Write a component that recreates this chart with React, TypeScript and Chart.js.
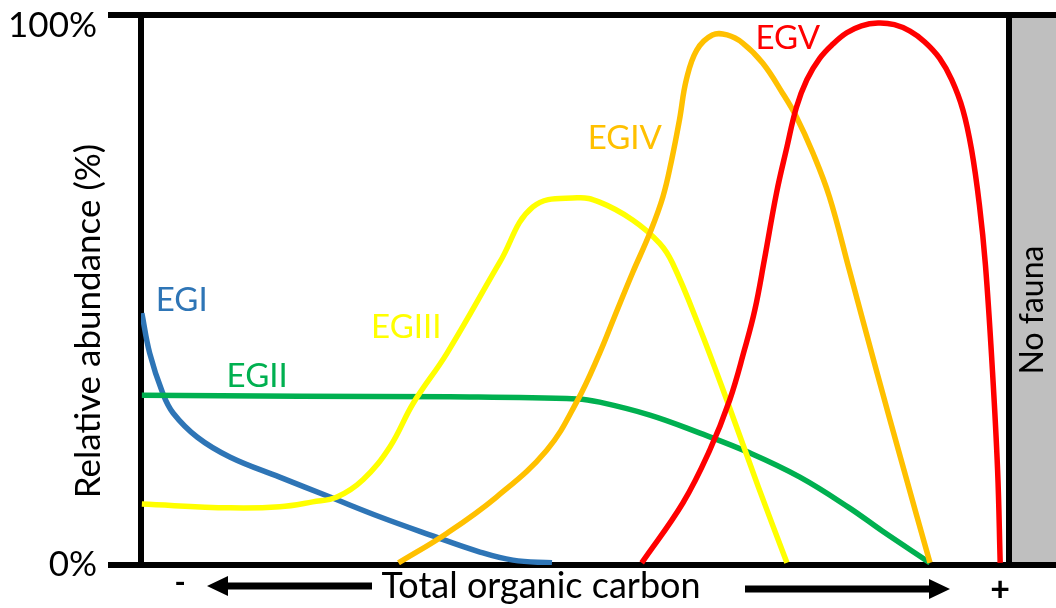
import React, { useEffect, useRef } from "react";
import { Chart, registerables } from "chart.js";

Chart.register(...registerables);

const FONT = "Lato, 'Open Sans', sans-serif";

// x: position along the organic-carbon gradient (0 = left axis, 100 = "No fauna" boundary)
// y: relative abundance (%)
const egiX = [0.1, 1, 2.5, 3.7, 6.5, 10.3, 16, 21.8, 27.6, 33.3, 39.1, 42.9, 47.4];
const egiY = [46.7, 39.3, 31.9, 28.2, 23.7, 20, 16.3, 12.6, 8.9, 5.6, 2.4, 0.9, 0.4];

const egiiX = [0.1, 18.3, 35.6, 50.3, 52.9, 58.7, 64.4, 70.2, 76, 81.7, 85.5, 91];
const egiiY = [31.5, 31.3, 31.2, 30.8, 30.2, 27.8, 24.5, 20.8, 16.3, 10.6, 6.3, 0.4];

const egiiiX = [0.1, 10.3, 16, 19.8, 22.6, 25.6, 28.7, 31.4, 35.3, 41.4, 45.2, 50.3, 52.9, 56.7, 59.8, 61.3, 64.4, 67.7, 71.2, 74.5];
const egiiiY = [11.3, 10.6, 10.8, 11.7, 12.6, 15.8, 21.9, 30, 39.3, 56.2, 66.4, 68.1, 67.3, 64, 59.7, 56, 44.1, 30, 14.5, 0.4];

const egivX = [29.7, 35.3, 41, 46.8, 50.3, 52.9, 54.6, 56.7, 58.7, 60.2, 61.2, 62.1, 62.9, 64.1, 65.9, 67.6, 69.4, 71.7, 74, 75.6, 77.5, 79.4, 81.7, 84.8, 88, 91];
const egivY = [0.4, 5.9, 12.6, 21.3, 30.4, 39.3, 46, 54.2, 61.6, 68.3, 75.1, 82.5, 90, 95.5, 98.3, 98.3, 96.8, 93.1, 87.5, 83.1, 76.4, 68.3, 54.7, 36.2, 17.6, 0.4];

const egvX = [57.75, 62.5, 65.6, 67.9, 69.6, 70.8, 71.9, 73.3, 74.5, 75.6, 76.8, 78.3, 79.8, 81.4, 83.1, 85, 86.9, 88.7, 90.4, 92.1, 93.5, 94.8, 95.8, 96.7, 97.4, 98.2, 98.8, 99.1];
const egvY = [0.4, 11.5, 21.3, 30.6, 39.9, 47.3, 56.6, 69, 77.5, 84.9, 90, 94, 96.6, 98.7, 100, 100.5, 100.2, 99, 97, 94, 90, 84.4, 77, 66.8, 55.6, 36.2, 17.6, 0.4];

const seriesNames = ["EGI", "EGII", "EGIII", "EGIV", "EGV"];
const seriesX = [egiX, egiiX, egiiiX, egivX, egvX];
const seriesY = [egiY, egiiY, egiiiY, egivY, egvY];
const seriesColors = ["#2E75B6", "#00B050", "#FFFF00", "#FFC000", "#FF0000"];
const seriesOrder = [4, 3, 2, 1, 0];
// label anchor (centre) in data units
const labelAnchorX = [4.7, 13.4, 30.6, 55.8, 74.6];
const labelAnchorY = [49.1, 35, 44.1, 79.2, 97.7];

const yTickValues = [0, 100];
const yTickLabels = ["0%", "100%"];
const xAxisTitle = "Total organic carbon";
const yAxisTitle = "Relative abundance (%)";
const zoneLabel = "No fauna";
const lowSign = "-";
const highSign = "+";

const decorPlugin = {
  id: "decor",
  beforeDatasetsDraw(chart: any) {
    const { ctx, chartArea: a, width } = chart;
    ctx.save();
    ctx.fillStyle = "#BFBFBF";
    ctx.fillRect(a.right, a.top, width - a.right, a.bottom - a.top);
    ctx.strokeStyle = "#000";
    ctx.lineWidth = 6;
    ctx.lineCap = "butt";
    ctx.beginPath();
    ctx.moveTo(108, a.top);
    ctx.lineTo(width, a.top);
    ctx.moveTo(108, a.bottom);
    ctx.lineTo(width, a.bottom);
    ctx.moveTo(a.left, a.top);
    ctx.lineTo(a.left, a.bottom);
    ctx.moveTo(a.right + 1, a.top);
    ctx.lineTo(a.right + 1, a.bottom);
    ctx.stroke();

    ctx.fillStyle = "#000";
    ctx.save();
    ctx.translate(89, 321);
    ctx.rotate(-Math.PI / 2);
    ctx.font = `35px ${FONT}`;
    ctx.textAlign = "center";
    ctx.textBaseline = "middle";
    ctx.fillText(yAxisTitle, 0, 0);
    ctx.restore();

    ctx.save();
    ctx.translate(1033, 310);
    ctx.rotate(-Math.PI / 2);
    ctx.font = `32px ${FONT}`;
    ctx.textAlign = "center";
    ctx.textBaseline = "middle";
    ctx.fillText(zoneLabel, 0, 0);
    ctx.restore();

    ctx.font = `36px ${FONT}`;
    ctx.textAlign = "center";
    ctx.textBaseline = "middle";
    ctx.fillText(xAxisTitle, 541, 586);
    ctx.font = `bold 30px ${FONT}`;
    ctx.fillText(lowSign, 180, 583);
    ctx.font = `bold 34px ${FONT}`;
    ctx.fillText(highSign, 1000, 590);

    ctx.lineWidth = 7;
    ctx.beginPath();
    ctx.moveTo(226, 586);
    ctx.lineTo(372, 586);
    ctx.moveTo(745, 589);
    ctx.lineTo(931, 589);
    ctx.stroke();
    ctx.beginPath();
    ctx.moveTo(207, 586);
    ctx.lineTo(228, 576);
    ctx.lineTo(228, 596);
    ctx.closePath();
    ctx.moveTo(950, 589);
    ctx.lineTo(929, 579);
    ctx.lineTo(929, 599);
    ctx.closePath();
    ctx.fill();
    ctx.restore();
  },
  afterDatasetsDraw(chart: any) {
    const { ctx } = chart;
    const xs = chart.scales.x;
    const ys = chart.scales.y;
    ctx.save();
    ctx.font = `33px ${FONT}`;
    ctx.textAlign = "center";
    ctx.textBaseline = "middle";
    seriesNames.forEach((n, i) => {
      ctx.fillStyle = seriesColors[i];
      ctx.fillText(n, xs.getPixelForValue(labelAnchorX[i]), ys.getPixelForValue(labelAnchorY[i]));
    });
    ctx.restore();
  },
};

export default function App() {
  const ref = useRef<HTMLCanvasElement | null>(null);
  useEffect(() => {
    if (!ref.current) return;
    const chart = new Chart(ref.current, {
      type: "line",
      data: {
        datasets: seriesNames.map((name, i) => ({
          label: name,
          data: seriesX[i].map((x, j) => ({ x, y: seriesY[i][j] })),
          borderColor: seriesColors[i],
          backgroundColor: seriesColors[i],
          borderWidth: 5.5,
          pointRadius: 0,
          fill: false,
          tension: 0.4,
          order: seriesOrder[i],
        })),
      },
      options: {
        responsive: false,
        animation: false,
        devicePixelRatio: 1,
        layout: { padding: { top: 15, right: 48, bottom: 43, left: 0 } },
        plugins: { legend: { display: false }, tooltip: { enabled: false } },
        scales: {
          x: { type: "linear", min: 0, max: 100, display: false },
          y: {
            type: "linear",
            min: 0,
            max: 102,
            grid: { display: false, drawTicks: false },
            border: { display: false },
            afterBuildTicks: (axis: any) => {
              axis.ticks = yTickValues.map((v) => ({ value: v }));
            },
            afterFit: (axis: any) => {
              axis.width = 141;
              axis.paddingTop = 0;
              axis.paddingBottom = 0;
            },
            ticks: {
              padding: 44,
              color: "#000",
              font: { family: FONT, size: 35 },
              callback: (v: any) => {
                const k = yTickValues.indexOf(Number(v));
                return k >= 0 ? yTickLabels[k] : "";
              },
            },
          },
        },
      },
      plugins: [decorPlugin],
    });
    return () => chart.destroy();
  }, []);
  return (
    <div style={{ position: "absolute", left: 0, top: 0, width: 1056, height: 608, background: "#fff" }}>
      <canvas ref={ref} width={1056} height={608} style={{ display: "block" }} />
    </div>
  );
}
